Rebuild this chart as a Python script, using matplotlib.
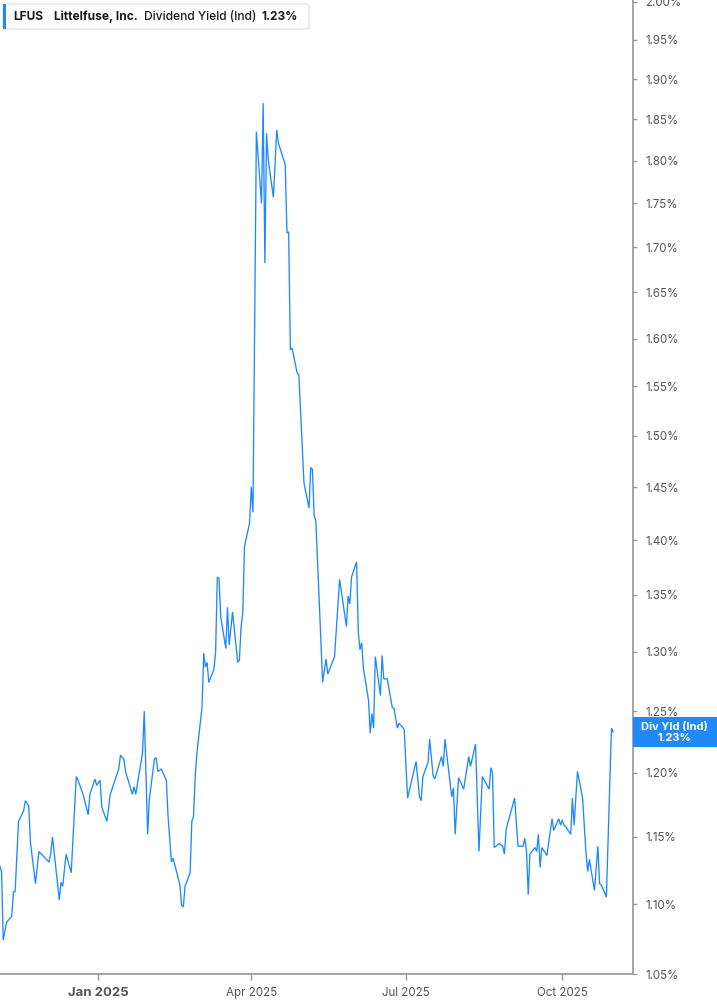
import matplotlib
matplotlib.use("Agg")
import matplotlib.pyplot as plt
import matplotlib.dates as mdates
from matplotlib.ticker import FixedLocator, FuncFormatter, NullLocator
from matplotlib.patches import Rectangle, FancyBboxPatch
from matplotlib.transforms import IdentityTransform
import pandas as pd

# ---------------- data ----------------
ticker_symbol = "LFUS"
company_name = "Littelfuse, Inc."
metric_name = "Dividend Yield (Ind)"
badge_title = "Div Yld (Ind)"

dates = [
    "2024-11-04", "2024-11-05", "2024-11-06", "2024-11-08", "2024-11-11", "2024-11-12", "2024-11-13",
    "2024-11-15", "2024-11-18", "2024-11-19", "2024-11-21", "2024-11-22", "2024-11-25", "2024-11-27",
    "2024-12-03", "2024-12-04", "2024-12-05", "2024-12-09", "2024-12-10", "2024-12-11", "2024-12-13",
    "2024-12-16", "2024-12-19", "2024-12-20", "2024-12-23", "2024-12-26", "2024-12-27", "2024-12-30",
    "2024-12-31", "2025-01-02", "2025-01-03", "2025-01-06", "2025-01-08", "2025-01-13", "2025-01-14",
    "2025-01-16", "2025-01-17", "2025-01-21", "2025-01-22", "2025-01-23", "2025-01-27", "2025-01-28",
    "2025-01-30", "2025-01-31", "2025-02-03", "2025-02-04", "2025-02-05", "2025-02-07", "2025-02-10",
    "2025-02-11", "2025-02-13", "2025-02-14", "2025-02-18", "2025-02-19", "2025-02-20", "2025-02-21",
    "2025-02-24", "2025-02-25", "2025-02-26", "2025-02-27", "2025-02-28", "2025-03-03", "2025-03-04",
    "2025-03-05", "2025-03-06", "2025-03-07", "2025-03-10", "2025-03-11", "2025-03-12", "2025-03-13",
    "2025-03-14", "2025-03-17", "2025-03-18", "2025-03-19", "2025-03-21", "2025-03-24", "2025-03-25",
    "2025-03-26", "2025-03-27", "2025-03-28", "2025-03-31", "2025-04-01", "2025-04-02", "2025-04-04",
    "2025-04-07", "2025-04-08", "2025-04-09", "2025-04-10", "2025-04-11", "2025-04-14", "2025-04-16",
    "2025-04-17", "2025-04-21", "2025-04-22", "2025-04-23", "2025-04-24", "2025-04-25", "2025-04-28",
    "2025-04-29", "2025-05-02", "2025-05-05", "2025-05-06", "2025-05-07", "2025-05-08", "2025-05-09",
    "2025-05-13", "2025-05-15", "2025-05-16", "2025-05-20", "2025-05-23", "2025-05-27", "2025-05-28",
    "2025-05-29", "2025-05-30", "2025-06-02", "2025-06-03", "2025-06-04", "2025-06-05", "2025-06-06",
    "2025-06-09", "2025-06-10", "2025-06-11", "2025-06-12", "2025-06-13", "2025-06-16", "2025-06-17",
    "2025-06-18", "2025-06-20", "2025-06-23", "2025-06-24", "2025-06-26", "2025-06-27", "2025-06-30",
    "2025-07-02", "2025-07-07", "2025-07-09", "2025-07-10", "2025-07-11", "2025-07-14", "2025-07-15",
    "2025-07-17", "2025-07-18", "2025-07-22", "2025-07-23", "2025-07-24", "2025-07-28", "2025-07-29",
    "2025-07-30", "2025-08-01", "2025-08-04", "2025-08-07", "2025-08-08", "2025-08-11", "2025-08-13",
    "2025-08-15", "2025-08-19", "2025-08-20", "2025-08-21", "2025-08-22", "2025-08-25", "2025-08-27",
    "2025-08-28", "2025-08-29", "2025-09-03", "2025-09-05", "2025-09-08", "2025-09-09", "2025-09-10",
    "2025-09-11", "2025-09-12", "2025-09-15", "2025-09-16", "2025-09-17", "2025-09-18", "2025-09-19",
    "2025-09-22", "2025-09-25", "2025-09-26", "2025-09-29", "2025-09-30", "2025-10-01", "2025-10-02",
    "2025-10-03", "2025-10-06", "2025-10-07", "2025-10-08", "2025-10-10", "2025-10-13", "2025-10-15",
    "2025-10-16", "2025-10-17", "2025-10-20", "2025-10-22", "2025-10-23", "2025-10-24", "2025-10-27",
    "2025-10-30", "2025-10-31",
]

dividend_yield = [
    1.128, 1.124, 1.074, 1.087, 1.091, 1.109, 1.109,
    1.162, 1.170, 1.178, 1.174, 1.146, 1.115, 1.139,
    1.131, 1.138, 1.150, 1.103, 1.116, 1.113, 1.137,
    1.123, 1.197, 1.194, 1.183, 1.167, 1.183, 1.195,
    1.190, 1.194, 1.173, 1.162, 1.183, 1.203, 1.214,
    1.211, 1.201, 1.183, 1.189, 1.183, 1.216, 1.250,
    1.152, 1.179, 1.211, 1.212, 1.201, 1.203, 1.194,
    1.166, 1.131, 1.134, 1.114, 1.099, 1.098, 1.113,
    1.123, 1.162, 1.166, 1.197, 1.216, 1.253, 1.299,
    1.287, 1.291, 1.274, 1.285, 1.300, 1.366, 1.365,
    1.331, 1.303, 1.339, 1.306, 1.335, 1.291, 1.293,
    1.322, 1.334, 1.394, 1.416, 1.450, 1.426, 1.835,
    1.750, 1.870, 1.682, 1.833, 1.801, 1.757, 1.837,
    1.821, 1.795, 1.716, 1.717, 1.588, 1.590, 1.564,
    1.562, 1.454, 1.430, 1.469, 1.467, 1.423, 1.418,
    1.274, 1.294, 1.281, 1.296, 1.364, 1.322, 1.349,
    1.342, 1.366, 1.380, 1.317, 1.302, 1.308, 1.286,
    1.259, 1.232, 1.248, 1.236, 1.296, 1.263, 1.297,
    1.277, 1.277, 1.253, 1.252, 1.236, 1.240, 1.235,
    1.180, 1.209, 1.181, 1.178, 1.197, 1.208, 1.227,
    1.198, 1.195, 1.213, 1.205, 1.227, 1.181, 1.188,
    1.152, 1.196, 1.187, 1.213, 1.205, 1.223, 1.139,
    1.197, 1.187, 1.204, 1.200, 1.142, 1.145, 1.143,
    1.137, 1.156, 1.180, 1.143, 1.143, 1.149, 1.139,
    1.107, 1.137, 1.142, 1.139, 1.152, 1.127, 1.142,
    1.136, 1.164, 1.155, 1.164, 1.159, 1.163, 1.159,
    1.158, 1.152, 1.180, 1.159, 1.201, 1.180, 1.138,
    1.124, 1.133, 1.110, 1.143, 1.115, 1.114, 1.105,
    1.236, 1.233,
]

ytick_values = [1.05, 1.10, 1.15, 1.20, 1.25, 1.30, 1.35, 1.40, 1.45, 1.50,
                1.55, 1.60, 1.65, 1.70, 1.75, 1.80, 1.85, 1.90, 1.95, 2.00]
xtick_dates = ["2025-01-01", "2025-04-01", "2025-07-01", "2025-10-01"]
xtick_labels = ["Jan 2025", "Apr 2025", "Jul 2025", "Oct 2025"]

# ---------------- style ----------------
BLUE = "#1e88ff"
BADGE = "#2189f8"
AXIS = "#9c9c9c"
TXT = "#555555"
FONT = ["Inter", "DejaVu Sans"]
plt.rcParams["font.family"] = FONT

W, H = 717, 1005
fig = plt.figure(figsize=(W / 100, H / 100), dpi=100)
fig.patch.set_facecolor("white")
bottom_px = 30.7
right_px = 632.7
ax = fig.add_axes([0, bottom_px / H, right_px / W, 1 - bottom_px / H])

x = pd.to_datetime(dates)
ax.plot(x, dividend_yield, color=BLUE, lw=0.95, solid_joinstyle="miter")

ax.set_yscale("log")
ax.set_ylim(1.05, 2.0023)
jan1 = mdates.date2num(pd.Timestamp("2025-01-01"))
ax.set_xlim(jan1 - 57.9, jan1 + 314.5)

for s in ["top", "left"]:
    ax.spines[s].set_visible(False)
for s in ["right", "bottom"]:
    ax.spines[s].set_color(AXIS)
    ax.spines[s].set_linewidth(1.3)

ax.yaxis.tick_right()
ax.yaxis.set_major_locator(FixedLocator(ytick_values))
ax.yaxis.set_minor_locator(NullLocator())
ax.yaxis.set_major_formatter(FuncFormatter(lambda v, p: f"{v:.2f}%"))
ax.tick_params(axis="y", length=3, width=1, color=AXIS, pad=6,
               labelsize=8.3, labelcolor=TXT)

ax.xaxis.set_major_locator(FixedLocator([mdates.date2num(pd.Timestamp(d)) for d in xtick_dates]))
ax.xaxis.set_minor_locator(NullLocator())
ax.set_xticklabels(xtick_labels)
ax.tick_params(axis="x", length=4, width=1, color=AXIS, pad=5,
               labelsize=8.3, labelcolor=TXT)
for lab in ax.get_xticklabels():
    if lab.get_text().startswith("Jan"):
        lab.set_fontweight("bold")
        lab.set_fontsize(9.5)

# ---------------- header legend box ----------------
ident = IdentityTransform()
box = FancyBboxPatch((3, H - 29), 306, 25, boxstyle="round,pad=0,rounding_size=3",
                     transform=ident, facecolor="white", edgecolor="#e3e3e3", lw=1)
fig.add_artist(box)
bar = Rectangle((3, H - 29), 3, 25, transform=ident, facecolor=BLUE, edgecolor="none")
fig.add_artist(bar)
ty = H - 16.5
fig.text(13, ty, ticker_symbol, transform=ident, fontsize=8.6, fontweight="bold",
         color="#1a1a1a", va="center", ha="left")
fig.text(54, ty, company_name, transform=ident, fontsize=8.6, fontweight="bold",
         color="#1a1a1a", va="center", ha="left")
fig.text(144, ty, metric_name, transform=ident, fontsize=8.6, fontweight="medium",
         color="#1a1a1a", va="center", ha="left")
fig.text(262, ty, f"{dividend_yield[-1]:.2f}%", transform=ident, fontsize=8.6, fontweight="bold",
         color="#1a1a1a", va="center", ha="left")

# ---------------- last-value badge ----------------
fig.canvas.draw()
yd = ax.transData.transform((mdates.date2num(x[-1]), dividend_yield[-1]))[1]
badge = Rectangle((right_px + 0.5, yd - 15), W - right_px, 30, transform=ident,
                  facecolor=BADGE, edgecolor="none")
fig.add_artist(badge)
cx = (right_px + W) / 2
fig.text(cx, yd + 5.3, badge_title, transform=ident, fontsize=8.0, fontweight="bold",
         color="white", va="center", ha="center")
fig.text(cx, yd - 5.8, f"{dividend_yield[-1]:.2f}%", transform=ident, fontsize=8.0,
         fontweight="bold", color="white", va="center", ha="center")

fig.savefig("out.png", dpi=100, facecolor="white")
